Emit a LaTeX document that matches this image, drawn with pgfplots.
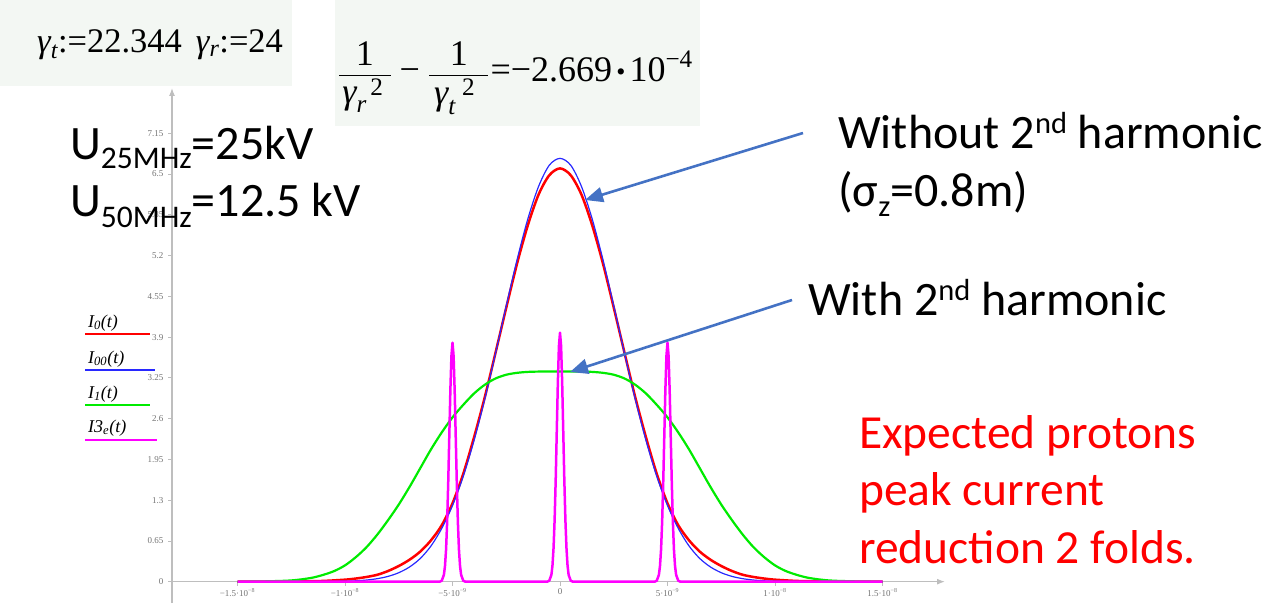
\documentclass[border=0pt]{standalone}
\usepackage{fontspec}
\setmainfont{Carlito}
\newfontfamily\tnr{Liberation Serif}
\usepackage{amsmath}
\usepackage{pgfplots}
\pgfplotsset{compat=1.18}
\usetikzlibrary{arrows.meta}
\definecolor{boxbg}{RGB}{243,247,243}
\definecolor{arrowblue}{RGB}{68,114,196}
\definecolor{axgray}{RGB}{190,190,190}
\definecolor{tlgray}{RGB}{115,115,115}
\definecolor{cIa}{RGB}{255,0,0}
\definecolor{cIb}{RGB}{40,40,255}
\definecolor{cIc}{RGB}{0,235,0}
\definecolor{cId}{RGB}{255,0,255}
\begin{document}
\begin{tikzpicture}[x=1pt,y=1pt]
\useasboundingbox (0,0) rectangle (1268,606);
% Mathcad formula boxes
\fill[boxbg] (0,520) rectangle (292,606);
\fill[boxbg] (335,480) rectangle (700,606);
\node[anchor=base west, inner sep=0] at (37,553) {\tnr\fontsize{34.5}{34.5}\selectfont{\itshape γ\textsubscript{t}}:=22.344\hspace{14pt}{\itshape γ\textsubscript{r}}:=24};
\node[anchor=base west, inner sep=0] at (338,524) {\tnr\fontsize{36}{36}\selectfont $\displaystyle\frac{\text{1}}{\hspace{3pt}\text{\itshape γ}_{\text{\itshape r}}^{\;\;\text{2}}\hspace{7pt}}\hspace{8pt}\text{−}\hspace{8pt}\frac{\text{1}}{\hspace{5pt}\text{\itshape γ}_{\text{\itshape t}}^{\;\;\text{2}}\hspace{13pt}}\hspace{1pt}\text{=−2.669}\,\text{\raisebox{1pt}{\fontsize{26}{26}\selectfont •}}\,\text{10}^{\text{−4}}$};
\begin{axis}[
  at={(172pt,3pt)}, anchor=south west, scale only axis,
  width=773pt, height=515pt,
  xmin=-18.047, xmax=17.907, ymin=-0.34, ymax=7.872,
  axis x line=middle, axis y line=left,
  axis line style={draw=axgray, line width=1.2pt},
  x axis line style={-{Latex[length=8pt,width=6pt]}},
  y axis line style={-{Latex[length=8pt,width=6pt]}},
  hide obscured x ticks=false, hide obscured y ticks=false,
  tick align=outside, major tick length=4pt,
  every tick/.style={axgray, line width=0.8pt},
  xtick={-15,-10,-5,0,5,10,15},
  xticklabels={−1.5·10\textsuperscript{−8},−1·10\textsuperscript{−8},−5·10\textsuperscript{−9},0,5·10\textsuperscript{−9},1·10\textsuperscript{−8},1.5·10\textsuperscript{−8}},
  ytick={0,0.65,1.3,1.95,2.6,3.25,3.9,4.55,5.2,5.85,6.5,7.15},
  yticklabels={0,0.65,1.3,1.95,2.6,3.25,3.9,4.55,5.2,5.85,6.5,7.15},
  every tick label/.append style={font=\tnr\fontsize{9}{10}\selectfont, text=tlgray},
  x tick label style={yshift=1pt},
  y tick label style={xshift=-1pt},
]
\addplot[cIa, line width=2.5pt, smooth] coordinates {
(-15,0) (-14,0.0005) (-13,0.002) (-12,0.005) (-11,0.012) (-10,0.032) (-9.5,0.05) (-9,0.075) (-8.5,0.11) (-8,0.17) (-7.5,0.25) (-7,0.35) (-6.5,0.48) (-6,0.66) (-5.5,0.90) (-5,1.25) (-4.5,1.72) (-4,2.30) (-3.5,2.94) (-3,3.65) (-2.5,4.37) (-2,5.07) (-1.5,5.68) (-1,6.17) (-0.5,6.48) (0,6.59)
(0.5,6.48) (1,6.17) (1.5,5.68) (2,5.07) (2.5,4.37) (3,3.65) (3.5,2.94) (4,2.30) (4.5,1.72) (5,1.25) (5.5,0.90) (6,0.66) (6.5,0.48) (7,0.35) (7.5,0.25) (8,0.17) (8.5,0.11) (9,0.075) (9.5,0.05) (10,0.032) (11,0.012) (12,0.005) (13,0.002) (14,0.0005) (15,0)};
\addplot[cIb, line width=1.2pt, smooth] coordinates {
(-15,0) (-12,0) (-11,0.002) (-10,0.007) (-9.5,0.014) (-9,0.026) (-8.5,0.048) (-8,0.084) (-7.5,0.143) (-7,0.234) (-6.5,0.37) (-6,0.57) (-5.5,0.85) (-5,1.215) (-4.5,1.68) (-4,2.25) (-3.5,2.91) (-3,3.64) (-2.5,4.40) (-2,5.13) (-1.5,5.78) (-1,6.30) (-0.5,6.64) (0,6.75)
(0.5,6.64) (1,6.30) (1.5,5.78) (2,5.13) (2.5,4.40) (3,3.64) (3.5,2.91) (4,2.25) (4.5,1.68) (5,1.215) (5.5,0.85) (6,0.57) (6.5,0.37) (7,0.234) (7.5,0.143) (8,0.084) (8.5,0.048) (9,0.026) (9.5,0.014) (10,0.007) (11,0.002) (12,0) (15,0)};
\addplot[cIc, line width=2.2pt, smooth] coordinates {
(-15,0) (-14,0.003) (-13,0.012) (-12.5,0.02) (-12,0.038) (-11.5,0.065) (-11,0.11) (-10.5,0.17) (-10,0.26) (-9.5,0.39) (-9,0.55) (-8.5,0.75) (-8,0.98) (-7.5,1.23) (-7,1.51) (-6.5,1.81) (-6,2.11) (-5.5,2.38) (-5,2.62) (-4.5,2.82) (-4,3.00) (-3.5,3.14) (-3,3.24) (-2.5,3.30) (-2,3.33) (-1.5,3.345) (-1,3.35) (-0.5,3.35) (0,3.35)
(0.5,3.35) (1,3.35) (1.5,3.345) (2,3.33) (2.5,3.30) (3,3.24) (3.5,3.14) (4,3.00) (4.5,2.82) (5,2.62) (5.5,2.38) (6,2.11) (6.5,1.81) (7,1.51) (7.5,1.23) (8,0.98) (8.5,0.75) (9,0.55) (9.5,0.39) (10,0.26) (10.5,0.17) (11,0.11) (11.5,0.065) (12,0.038) (12.5,0.02) (13,0.012) (14,0.003) (15,0)};
\addplot[cId, line width=2.5pt, line join=round] coordinates {
(-15,0) (-5.6,0) (-5.5,0.015) (-5.4,0.11) (-5.35,0.25) (-5.3,0.51) (-5.25,0.95) (-5.2,1.57) (-5.15,2.31) (-5.1,3.05) (-5.05,3.60) (-5,3.81) (-4.95,3.60) (-4.9,3.05) (-4.85,2.31) (-4.8,1.57) (-4.75,0.95) (-4.7,0.51) (-4.65,0.25) (-4.6,0.11) (-4.5,0.015) (-4.4,0)
(-0.6,0) (-0.5,0.015) (-0.4,0.11) (-0.35,0.26) (-0.3,0.54) (-0.25,0.99) (-0.2,1.63) (-0.15,2.41) (-0.1,3.18) (-0.05,3.76) (0,3.97) (0.05,3.76) (0.1,3.18) (0.15,2.41) (0.2,1.63) (0.25,0.99) (0.3,0.54) (0.35,0.26) (0.4,0.11) (0.5,0.015) (0.6,0)
(4.4,0) (4.5,0.015) (4.6,0.11) (4.65,0.25) (4.7,0.51) (4.75,0.95) (4.8,1.57) (4.85,2.31) (4.9,3.05) (4.95,3.60) (5,3.81) (5.05,3.60) (5.1,3.05) (5.15,2.31) (5.2,1.57) (5.25,0.95) (5.3,0.51) (5.35,0.25) (5.4,0.11) (5.5,0.015) (5.6,0) (15,0)};
\end{axis}
% Mathcad trace legend
\node[anchor=base west, inner sep=0] at (88,279) {\tnr\itshape\fontsize{18}{18}\selectfont I\textsubscript{0}(t)};
\draw[cIa, line width=2pt] (85,272) -- (150,272);
\node[anchor=base west, inner sep=0] at (88,243) {\tnr\itshape\fontsize{18}{18}\selectfont I\textsubscript{00}(t)};
\draw[cIb, line width=1.5pt] (85,236) -- (155,236);
\node[anchor=base west, inner sep=0] at (88,208) {\tnr\itshape\fontsize{18}{18}\selectfont I\textsubscript{1}(t)};
\draw[cIc, line width=2pt] (85,201) -- (150,201);
\node[anchor=base west, inner sep=0] at (88,174) {\tnr\itshape\fontsize{18}{18}\selectfont I3\textsubscript{e}(t)};
\draw[cId, line width=2pt] (85,166) -- (157,166);
% annotations
\node[anchor=base west, inner sep=0] at (70,446) {\fontsize{48}{48}\selectfont U\raisebox{-9pt}{\fontsize{31.5}{31.5}\selectfont 25MHz}=25kV};
\node[anchor=base west, inner sep=0] at (70,389.3) {\fontsize{48}{48}\selectfont U\raisebox{-11pt}{\fontsize{31.5}{31.5}\selectfont 50MHz}=12.5 kV};
\node[anchor=base west, inner sep=0] at (838,457.7) {\fontsize{48}{48}\selectfont Without 2\raisebox{15pt}{\fontsize{30.5}{30.5}\selectfont nd} harmonic};
\node[anchor=base west, inner sep=0] at (838,399.3) {\fontsize{48}{48}\selectfont (σ\raisebox{-10pt}{\fontsize{30.5}{30.5}\selectfont z}=0.8m)};
\node[anchor=base west, inner sep=0] at (808,291) {\fontsize{48}{48}\selectfont With 2\raisebox{15pt}{\fontsize{30.5}{30.5}\selectfont nd} harmonic};
\node[anchor=base west, inner sep=0, text=red] at (859,158) {\fontsize{47.5}{47.5}\selectfont Expected protons};
\node[anchor=base west, inner sep=0, text=red] at (859,100.5) {\fontsize{47.5}{47.5}\selectfont peak current};
\node[anchor=base west, inner sep=0, text=red] at (859,43) {\fontsize{47.5}{47.5}\selectfont reduction 2 folds.};
\draw[arrowblue, line width=2.6pt, -{Triangle[length=18pt,width=15pt]}] (803,473) -- (585,406);
\draw[arrowblue, line width=2.6pt, -{Triangle[length=18pt,width=15pt]}] (792,306) -- (570,234);
\end{tikzpicture}
\end{document}
